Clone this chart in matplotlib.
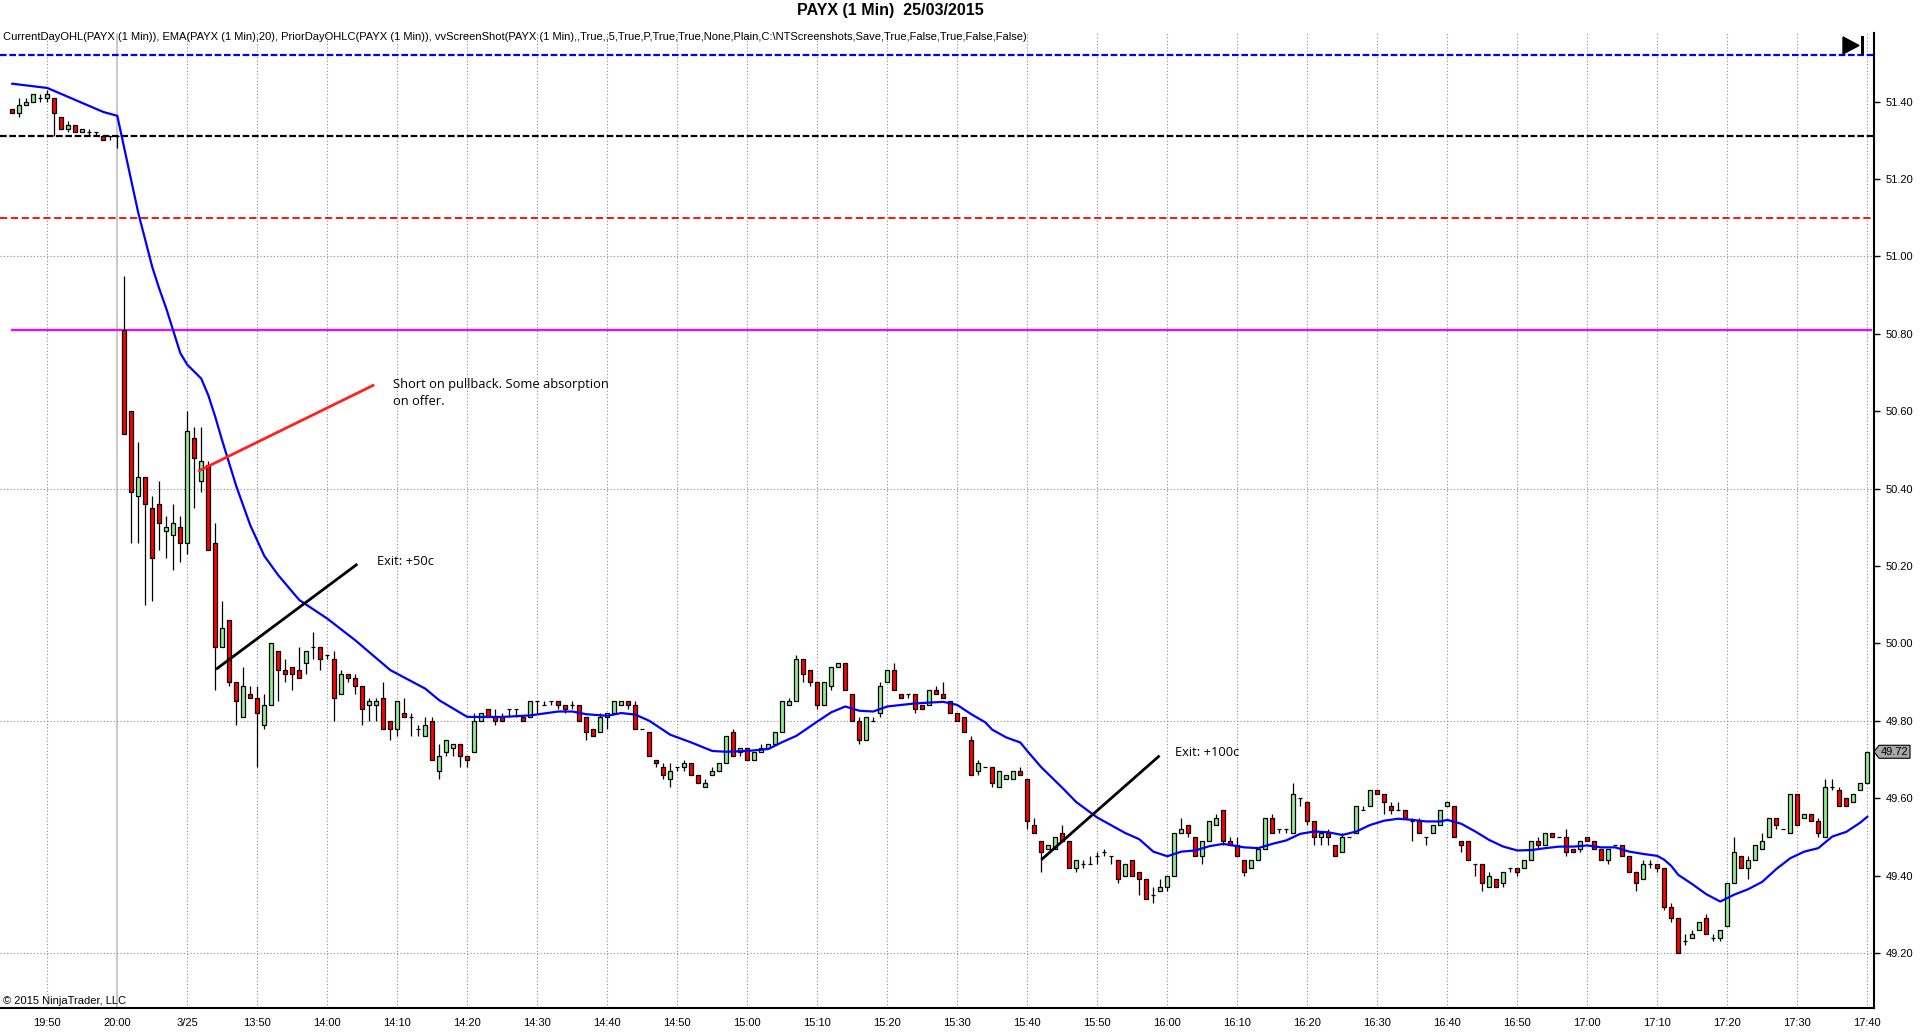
import numpy as np
import matplotlib
matplotlib.use("Agg")
import matplotlib.pyplot as plt
import matplotlib.transforms as mtransforms
from matplotlib.patches import Polygon, Rectangle

# PAYX 1 min bars. bar 0 = 20:00 (last bar of prior session), bar 1 = 13:31 on 3/25
first_bar = -15

bar_open = [
    51.38, 51.37, 51.39, 51.40, 51.41, 51.41, 51.41, 51.36, 51.33, 51.34,
    51.32, 51.32, 51.32, 51.31, 51.31, 51.31,
    50.81, 50.60, 50.38, 50.43, 50.35, 50.36, 50.29, 50.28, 50.30, 50.26,
    50.53, 50.42, 50.46, 50.26, 49.99, 50.06, 49.90, 49.81, 49.87, 49.86,
    49.79, 49.84, 49.98, 49.93, 49.94, 49.93, 49.95, 49.99, 49.99, 49.97,
    49.96, 49.87, 49.92, 49.91, 49.89, 49.84, 49.84, 49.86, 49.80, 49.78,
    49.82, 49.81, 49.78, 49.76, 49.80, 49.67, 49.72, 49.73, 49.74, 49.71,
    49.72, 49.80, 49.83, 49.81, 49.81, 49.83, 49.83, 49.81, 49.81, 49.85,
    49.84, 49.85, 49.85, 49.84, 49.84, 49.84, 49.81, 49.78, 49.77, 49.81,
    49.82, 49.84, 49.85, 49.84, 49.78, 49.77, 49.70, 49.68, 49.65, 49.68,
    49.68, 49.69, 49.66, 49.63, 49.66, 49.67, 49.69, 49.77, 49.72, 49.73,
    49.70, 49.72, 49.73, 49.74, 49.77, 49.84, 49.85, 49.96, 49.93, 49.90,
    49.84, 49.89, 49.94, 49.95, 49.87, 49.80, 49.75, 49.80, 49.82, 49.90,
    49.93, 49.87, 49.87, 49.87, 49.84, 49.84, 49.88, 49.87, 49.85, 49.82,
    49.81, 49.75, 49.67, 49.68, 49.68, 49.63, 49.65, 49.65, 49.67, 49.65,
    49.53, 49.49, 49.47, 49.47, 49.51, 49.49, 49.42, 49.43, 49.43, 49.45,
    49.46, 49.45, 49.44, 49.40, 49.44, 49.41, 49.39, 49.35, 49.36, 49.37,
    49.40, 49.51, 49.53, 49.50, 49.45, 49.49, 49.53, 49.57, 49.49, 49.48,
    49.44, 49.42, 49.44, 49.47, 49.55, 49.52, 49.52, 49.51, 49.60, 49.59,
    49.54, 49.50, 49.51, 49.48, 49.46, 49.50, 49.51, 49.57, 49.58, 49.62,
    49.61, 49.58, 49.57, 49.57, 49.54, 49.54, 49.50, 49.51, 49.53, 49.58,
    49.58, 49.49, 49.49, 49.43, 49.43, 49.37, 49.39, 49.38, 49.42, 49.42,
    49.42, 49.44, 49.49, 49.48, 49.51, 49.50, 49.50, 49.47, 49.47, 49.50,
    49.49, 49.47, 49.44, 49.48, 49.48, 49.45, 49.41, 49.39, 49.43, 49.43,
    49.42, 49.32, 49.29, 49.23, 49.24, 49.26, 49.29, 49.24, 49.24, 49.27,
    49.38, 49.45, 49.42, 49.44, 49.47, 49.50, 49.55, 49.52, 49.51, 49.61,
    49.55, 49.56, 49.54, 49.50, 49.63, 49.62, 49.60, 49.59, 49.62, 49.64,
]
bar_high = [
    51.38, 51.41, 51.41, 51.42, 51.42, 51.43, 51.41, 51.36, 51.35, 51.34,
    51.33, 51.33, 51.32, 51.31, 51.31, 51.31,
    50.95, 50.60, 50.52, 50.43, 50.38, 50.42, 50.33, 50.36, 50.33, 50.60,
    50.56, 50.56, 50.47, 50.31, 50.11, 50.06, 49.90, 49.94, 49.89, 49.89,
    49.87, 50.00, 49.98, 49.96, 49.94, 49.99, 49.98, 50.03, 49.99, 49.97,
    49.98, 49.93, 49.92, 49.92, 49.89, 49.86, 49.86, 49.90, 49.80, 49.85,
    49.86, 49.82, 49.79, 49.81, 49.81, 49.74, 49.75, 49.74, 49.74, 49.71,
    49.82, 49.82, 49.83, 49.83, 49.82, 49.83, 49.83, 49.81, 49.85, 49.85,
    49.85, 49.85, 49.85, 49.84, 49.85, 49.84, 49.81, 49.78, 49.82, 49.82,
    49.85, 49.85, 49.85, 49.85, 49.78, 49.77, 49.70, 49.69, 49.69, 49.68,
    49.70, 49.69, 49.66, 49.65, 49.68, 49.69, 49.76, 49.78, 49.73, 49.73,
    49.72, 49.74, 49.74, 49.77, 49.85, 49.86, 49.97, 49.96, 49.93, 49.90,
    49.90, 49.94, 49.95, 49.95, 49.87, 49.81, 49.81, 49.81, 49.90, 49.93,
    49.95, 49.87, 49.87, 49.87, 49.84, 49.88, 49.89, 49.90, 49.85, 49.82,
    49.81, 49.76, 49.70, 49.68, 49.68, 49.67, 49.66, 49.67, 49.68, 49.65,
    49.55, 49.49, 49.48, 49.50, 49.53, 49.49, 49.44, 49.44, 49.45, 49.46,
    49.47, 49.45, 49.44, 49.43, 49.44, 49.41, 49.39, 49.37, 49.39, 49.40,
    49.51, 49.55, 49.53, 49.50, 49.49, 49.54, 49.56, 49.57, 49.50, 49.50,
    49.44, 49.44, 49.47, 49.55, 49.56, 49.52, 49.52, 49.64, 49.60, 49.59,
    49.54, 49.51, 49.52, 49.48, 49.51, 49.50, 49.58, 49.58, 49.62, 49.62,
    49.61, 49.59, 49.59, 49.57, 49.55, 49.55, 49.50, 49.53, 49.57, 49.59,
    49.58, 49.49, 49.49, 49.43, 49.43, 49.41, 49.39, 49.41, 49.42, 49.42,
    49.44, 49.49, 49.50, 49.51, 49.51, 49.50, 49.52, 49.47, 49.49, 49.50,
    49.49, 49.47, 49.47, 49.48, 49.48, 49.45, 49.41, 49.44, 49.44, 49.43,
    49.42, 49.33, 49.29, 49.25, 49.26, 49.28, 49.30, 49.25, 49.26, 49.38,
    49.50, 49.45, 49.45, 49.48, 49.51, 49.55, 49.55, 49.52, 49.61, 49.61,
    49.56, 49.56, 49.55, 49.65, 49.65, 49.63, 49.60, 49.61, 49.64, 49.72,
]
bar_low = [
    51.37, 51.36, 51.39, 51.40, 51.40, 51.40, 51.31, 51.33, 51.32, 51.32,
    51.32, 51.31, 51.31, 51.30, 51.30, 51.28,
    50.54, 50.26, 50.26, 50.10, 50.11, 50.24, 50.22, 50.19, 50.21, 50.23,
    50.35, 50.39, 50.24, 49.88, 49.99, 49.89, 49.79, 49.81, 49.86, 49.68,
    49.78, 49.84, 49.85, 49.90, 49.88, 49.91, 49.92, 49.96, 49.93, 49.96,
    49.80, 49.87, 49.90, 49.87, 49.79, 49.80, 49.80, 49.78, 49.75, 49.76,
    49.81, 49.76, 49.76, 49.76, 49.70, 49.65, 49.71, 49.71, 49.68, 49.68,
    49.72, 49.80, 49.81, 49.79, 49.80, 49.81, 49.81, 49.80, 49.81, 49.82,
    49.84, 49.84, 49.83, 49.82, 49.83, 49.80, 49.75, 49.76, 49.77, 49.78,
    49.82, 49.84, 49.83, 49.78, 49.78, 49.71, 49.68, 49.65, 49.63, 49.67,
    49.67, 49.66, 49.64, 49.63, 49.66, 49.67, 49.69, 49.71, 49.71, 49.70,
    49.70, 49.72, 49.73, 49.74, 49.77, 49.84, 49.85, 49.90, 49.89, 49.83,
    49.84, 49.88, 49.94, 49.88, 49.80, 49.74, 49.75, 49.80, 49.81, 49.90,
    49.88, 49.86, 49.86, 49.82, 49.83, 49.84, 49.87, 49.86, 49.82, 49.80,
    49.77, 49.66, 49.66, 49.68, 49.63, 49.63, 49.65, 49.65, 49.66, 49.52,
    49.51, 49.41, 49.47, 49.47, 49.49, 49.42, 49.41, 49.42, 49.43, 49.43,
    49.45, 49.43, 49.38, 49.40, 49.40, 49.35, 49.34, 49.33, 49.36, 49.36,
    49.40, 49.51, 49.50, 49.45, 49.43, 49.49, 49.53, 49.48, 49.48, 49.45,
    49.40, 49.42, 49.44, 49.47, 49.51, 49.51, 49.51, 49.51, 49.58, 49.53,
    49.48, 49.48, 49.48, 49.45, 49.46, 49.50, 49.51, 49.57, 49.58, 49.61,
    49.56, 49.56, 49.57, 49.55, 49.49, 49.51, 49.48, 49.51, 49.53, 49.58,
    49.50, 49.46, 49.44, 49.40, 49.36, 49.37, 49.37, 49.37, 49.41, 49.40,
    49.42, 49.44, 49.47, 49.48, 49.50, 49.50, 49.45, 49.46, 49.46, 49.49,
    49.47, 49.44, 49.43, 49.48, 49.45, 49.41, 49.36, 49.39, 49.42, 49.41,
    49.31, 49.28, 49.20, 49.22, 49.24, 49.26, 49.25, 49.23, 49.23, 49.27,
    49.38, 49.42, 49.39, 49.44, 49.47, 49.50, 49.52, 49.52, 49.51, 49.53,
    49.55, 49.54, 49.50, 49.50, 49.62, 49.58, 49.58, 49.59, 49.62, 49.64,
]
bar_close = [
    51.37, 51.39, 51.40, 51.42, 51.41, 51.42, 51.37, 51.33, 51.34, 51.32,
    51.33, 51.32, 51.32, 51.30, 51.31, 51.31,
    50.54, 50.39, 50.43, 50.36, 50.22, 50.31, 50.30, 50.31, 50.26, 50.55,
    50.48, 50.47, 50.24, 49.99, 50.04, 49.90, 49.85, 49.89, 49.86, 49.82,
    49.84, 50.00, 49.93, 49.92, 49.92, 49.91, 49.98, 49.99, 49.96, 49.97,
    49.86, 49.92, 49.91, 49.89, 49.83, 49.85, 49.85, 49.78, 49.78, 49.85,
    49.81, 49.81, 49.78, 49.79, 49.70, 49.71, 49.75, 49.74, 49.71, 49.70,
    49.80, 49.82, 49.81, 49.80, 49.80, 49.83, 49.83, 49.80, 49.85, 49.85,
    49.84, 49.85, 49.84, 49.83, 49.84, 49.80, 49.77, 49.76, 49.81, 49.82,
    49.85, 49.85, 49.84, 49.78, 49.78, 49.71, 49.69, 49.66, 49.67, 49.68,
    49.69, 49.66, 49.64, 49.64, 49.67, 49.69, 49.76, 49.71, 49.73, 49.70,
    49.72, 49.73, 49.74, 49.77, 49.85, 49.85, 49.96, 49.92, 49.90, 49.84,
    49.90, 49.94, 49.95, 49.88, 49.80, 49.75, 49.81, 49.80, 49.89, 49.93,
    49.88, 49.86, 49.87, 49.83, 49.83, 49.88, 49.87, 49.86, 49.82, 49.80,
    49.77, 49.66, 49.69, 49.68, 49.64, 49.67, 49.66, 49.67, 49.66, 49.54,
    49.51, 49.46, 49.48, 49.50, 49.49, 49.42, 49.44, 49.43, 49.43, 49.45,
    49.46, 49.45, 49.39, 49.43, 49.40, 49.39, 49.34, 49.35, 49.37, 49.40,
    49.51, 49.52, 49.51, 49.45, 49.49, 49.54, 49.55, 49.49, 49.48, 49.45,
    49.41, 49.44, 49.47, 49.55, 49.51, 49.52, 49.52, 49.61, 49.60, 49.54,
    49.50, 49.51, 49.50, 49.45, 49.50, 49.50, 49.58, 49.57, 49.62, 49.61,
    49.59, 49.57, 49.57, 49.55, 49.54, 49.51, 49.50, 49.53, 49.57, 49.59,
    49.50, 49.48, 49.44, 49.43, 49.38, 49.40, 49.37, 49.41, 49.42, 49.41,
    49.44, 49.49, 49.48, 49.51, 49.50, 49.50, 49.46, 49.46, 49.49, 49.49,
    49.47, 49.44, 49.47, 49.48, 49.45, 49.41, 49.38, 49.43, 49.43, 49.42,
    49.32, 49.29, 49.20, 49.23, 49.25, 49.28, 49.25, 49.24, 49.26, 49.38,
    49.46, 49.42, 49.44, 49.48, 49.49, 49.55, 49.53, 49.52, 49.61, 49.53,
    49.56, 49.54, 49.51, 49.63, 49.63, 49.58, 49.58, 49.61, 49.64, 49.72,
]

# EMA(20) at these bars
ema_bar = [-15, -10, -2, 0, 1, 3, 5, 6, 7, 9, 10, 12, 13, 14, 15, 17, 19, 21, 23, 26,
           30, 34, 39, 44, 46, 50, 55, 59, 63, 65, 67, 70, 72, 74, 76, 79, 82, 85, 87, 90,
           93, 95, 97, 100, 102, 104, 106, 108, 110, 114, 118, 120, 122, 124, 125, 127, 129, 130, 132, 135,
           137, 140, 142, 144, 146, 148, 150, 152, 154, 156, 158, 161, 163, 165, 167, 169, 171, 173, 175, 177,
           179, 181, 183, 185, 187, 189, 190, 192, 194, 196, 198, 200, 202, 204, 206, 208, 210, 212, 214, 216,
           218, 220, 221, 222, 223, 225, 227, 229, 231, 233, 235, 237, 239, 241, 243, 245, 247, 249, 250]
ema_val = [51.446, 51.435, 51.373, 51.363, 51.279, 51.112, 50.972, 50.916, 50.865, 50.750,
           50.720, 50.684, 50.641, 50.585, 50.523, 50.406, 50.305, 50.226, 50.176, 50.112,
           50.064, 50.008, 49.931, 49.883, 49.853, 49.810, 49.810, 49.814, 49.824, 49.824,
           49.817, 49.813, 49.820, 49.816, 49.800, 49.764, 49.744, 49.722, 49.720, 49.722,
           49.727, 49.745, 49.761, 49.798, 49.822, 49.837, 49.826, 49.824, 49.837, 49.845,
           49.849, 49.841, 49.817, 49.796, 49.777, 49.757, 49.744, 49.722, 49.680, 49.627,
           49.590, 49.550, 49.530, 49.510, 49.494, 49.462, 49.450, 49.462, 49.465, 49.476,
           49.482, 49.473, 49.471, 49.482, 49.491, 49.508, 49.514, 49.512, 49.505, 49.514,
           49.531, 49.542, 49.547, 49.544, 49.540, 49.540, 49.544, 49.534, 49.514, 49.492,
           49.475, 49.465, 49.466, 49.471, 49.475, 49.475, 49.478, 49.473, 49.473, 49.462,
           49.456, 49.451, 49.441, 49.425, 49.402, 49.378, 49.352, 49.333, 49.351, 49.365,
           49.384, 49.417, 49.445, 49.462, 49.471, 49.501, 49.513, 49.537, 49.552]

time_labels = ["19:50", "20:00", "3/25", "13:50", "14:00", "14:10", "14:20", "14:30", "14:40",
               "14:50", "15:00", "15:10", "15:20", "15:30", "15:40", "15:50", "16:00", "16:10",
               "16:20", "16:30", "16:40", "16:50", "17:00", "17:10", "17:20", "17:30", "17:40"]
price_ticks = [49.20, 49.40, 49.60, 49.80, 50.00, 50.20, 50.40, 50.60, 50.80, 51.00, 51.20, 51.40]
grid_prices = [51.00, 50.40, 49.80, 49.20]

prior_high = 51.52
prior_close = 51.31
prior_low = 51.10
today_open = 50.81

# drawn annotations (bar, price)
short_line_x = [11.56, 36.7]
short_line_y = [50.445, 50.668]
exit1_line_x = [14.1, 34.3]
exit1_line_y = [49.933, 50.205]
exit2_line_x = [132.0, 148.9]
exit2_line_y = [49.441, 49.710]

indicator_text = ("CurrentDayOHL(PAYX (1 Min)), EMA(PAYX (1 Min),20), PriorDayOHLC(PAYX (1 Min)), "
                  "vvScreenShot(PAYX (1 Min),,True,,5,True,P,True,True,None,Plain,C:\\NTScreenshots,"
                  "Save,True,False,True,False,False)")

plt.rcParams['font.family'] = ['Liberation Sans', 'DejaVu Sans']

W, H = 1920, 1034
fig = plt.figure(figsize=(W / 100, H / 100), dpi=100)
fig.patch.set_facecolor('white')
ax = fig.add_axes([0, 1 - 1008 / H, 1874 / W, (1008 - 33) / H])

xs = np.arange(first_bar, first_bar + len(bar_open))
o = np.array(bar_open)
c = np.array(bar_close)
hi = np.array(bar_high)
lo = np.array(bar_low)

# grid
tick_pos = list(range(-10, 251, 10))
for t in tick_pos:
    if t == 0:
        ax.axvline(t, color='#c0c0c0', lw=1.2, zorder=0.5)
    else:
        ax.axvline(t, color='#8a8a8a', lw=0.8, ls=(0, (1, 2)), zorder=0.5)
for p in grid_prices:
    ax.axhline(p, color='#8a8a8a', lw=0.8, ls=(0, (1, 2)), zorder=0.5)

# prior day / current day levels
ax.axhline(prior_high, color='#0000ff', lw=1.6, ls=(0, (3, 1.2)), zorder=1)
ax.axhline(prior_close, color='black', lw=1.6, ls=(0, (3, 1.2)), zorder=1)
ax.axhline(prior_low, color='#ff0000', lw=1.3, ls=(0, (4, 2)), zorder=1)
ax.plot([first_bar, xs[-1] + 0.5], [today_open, today_open], color='#ff00ff', lw=1.6, zorder=1)

# candles
ax.vlines(xs, lo, hi, color='black', lw=0.9, zorder=2)
up = c > o
body_col = np.where(up, '#90ee90', '#ff0000')
ax.bar(xs, np.abs(c - o), bottom=np.minimum(o, c), width=0.62, color=body_col,
       edgecolor='black', linewidth=0.9, zorder=2.5)

# EMA
ax.plot(ema_bar, ema_val, color='#0000ff', lw=1.6, zorder=3)

# annotations
ax.plot(short_line_x, short_line_y, color='#ff2020', lw=2.0, solid_capstyle='butt', zorder=4)
ax.plot(exit1_line_x, exit1_line_y, color='black', lw=2.0, solid_capstyle='butt', zorder=4)
ax.plot(exit2_line_x, exit2_line_y, color='black', lw=2.0, solid_capstyle='butt', zorder=4)
note_font = ['Open Sans', 'DejaVu Sans']
ax.text(39.4, 50.647, "Short on pullback. Some absorption\non offer.", fontsize=9.3,
        family=note_font, va='center', ha='left', linespacing=1.4, zorder=5)
ax.text(37.1, 50.211, "Exit: +50c", fontsize=9.3, family=note_font, va='center', ha='left', zorder=5)
ax.text(151.1, 49.718, "Exit: +100c", fontsize=9.3, family=note_font, va='center', ha='left', zorder=5)

ax.set_xlim(-16.757, 250.96)
ax.set_ylim(49.058, 51.577)

for s in ['top', 'left']:
    ax.spines[s].set_visible(False)
for s in ['right', 'bottom']:
    ax.spines[s].set_linewidth(1.5)

ax.yaxis.tick_right()
ax.set_yticks(price_ticks)
ax.set_yticklabels([f"{p:.2f}" for p in price_ticks])
ax.tick_params(axis='y', direction='out', length=4.5, width=1, pad=4, labelsize=8)
ax.set_xticks(tick_pos)
ax.set_xticklabels(time_labels)
ax.tick_params(axis='x', length=0, pad=7, labelsize=8)

# last price tag on the price axis
last = bar_close[-1]
tag_tr = mtransforms.ScaledTranslation(1.0, last, ax.get_yaxis_transform())
tag = Polygon([(0, 0), (5, 6.5), (36, 6.5), (36, -6.5), (5, -6.5)], closed=True,
              facecolor='#a8a8a8', edgecolor='black', lw=0.8,
              transform=mtransforms.IdentityTransform() + tag_tr, clip_on=False, zorder=6)
ax.add_patch(tag)
ax.text(1.0 + 20.5 / 1874, last, f"{last:.2f}", transform=ax.get_yaxis_transform(),
        ha='center', va='center', fontsize=8, zorder=7, clip_on=False)

# screenshot marker at top right
fig.add_artist(Polygon([(1843, H - 37), (1843, H - 54), (1859, H - 45.5)], closed=True,
                       facecolor='black', edgecolor='black', transform=mtransforms.IdentityTransform()))
fig.add_artist(Rectangle((1861, H - 55), 2.5, 19, facecolor='black', edgecolor='none',
                         transform=mtransforms.IdentityTransform()))

fig.text(890 / W, 1 - 10 / H, "PAYX (1 Min)  25/03/2015", ha='center', va='center',
         fontsize=11.5, fontweight='bold')
fig.text(3 / W, 1 - 37 / H, indicator_text, ha='left', va='center', fontsize=8)
fig.text(3 / W, 1 - 1001 / H, "\u00a9 2015 NinjaTrader, LLC", ha='left', va='center', fontsize=8)

fig.savefig("out.png", dpi=100, facecolor='white')
